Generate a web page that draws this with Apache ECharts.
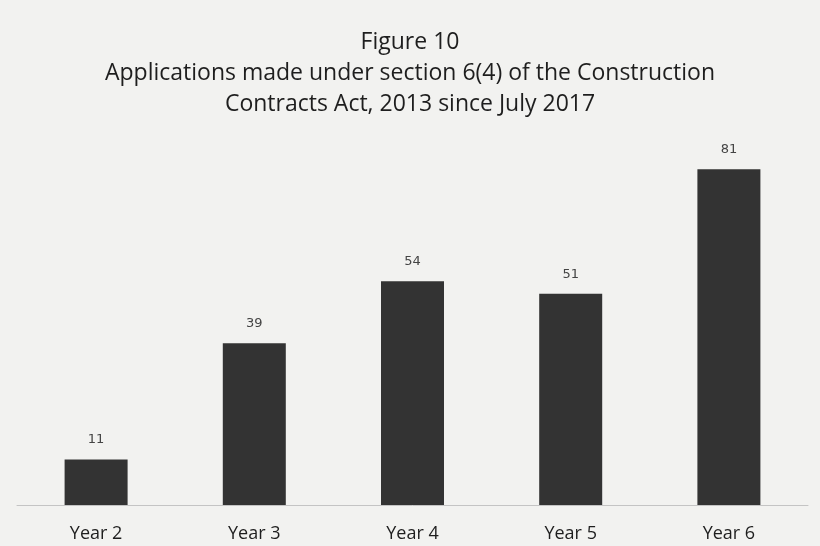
<!DOCTYPE html>
<html>
<head>
<meta charset="utf-8">
<script src="https://cdn.jsdelivr.net/npm/echarts@6/dist/echarts.min.js"></script>
<style>
html,body{margin:0;padding:0;background:#f2f2f0;}
#chart{width:820px;height:546px;}
</style>
</head>
<body>
<div id="chart"></div>
<script>
var categories = ["Year 2", "Year 3", "Year 4", "Year 5", "Year 6"];
var applications = [11, 39, 54, 51, 81];
var titleLines = ["Figure 10", "Applications made under section 6(4) of the Construction", "Contracts Act, 2013 since July 2017"];

var chart = echarts.init(document.getElementById('chart'));
chart.setOption({
  backgroundColor: '#f2f2f0',
  title: {
    text: titleLines.join('\n'),
    left: 'center',
    top: 22,
    textStyle: {
      fontFamily: 'Open Sans',
      fontWeight: 'normal',
      fontSize: 23,
      lineHeight: 31,
      color: '#1e1e1e'
    }
  },
  grid: { left: 17, right: 12, top: 132, bottom: 41 },
  xAxis: {
    type: 'category',
    data: categories,
    axisLine: { lineStyle: { color: '#c4c4c4', width: 1 } },
    axisTick: { show: false },
    axisLabel: {
      fontFamily: 'Open Sans',
      fontSize: 18,
      color: '#1e1e1e',
      margin: 20
    }
  },
  yAxis: {
    type: 'value',
    min: 0,
    max: 90,
    show: false,
    splitLine: { show: false }
  },
  series: [{
    type: 'bar',
    data: applications,
    barWidth: 63,
    itemStyle: { color: '#333333' },
    label: {
      show: true,
      position: 'top',
      distance: 13,
      fontFamily: 'DejaVu Sans',
      fontSize: 13,
      color: '#444444'
    }
  }]
});
</script>
</body>
</html>
